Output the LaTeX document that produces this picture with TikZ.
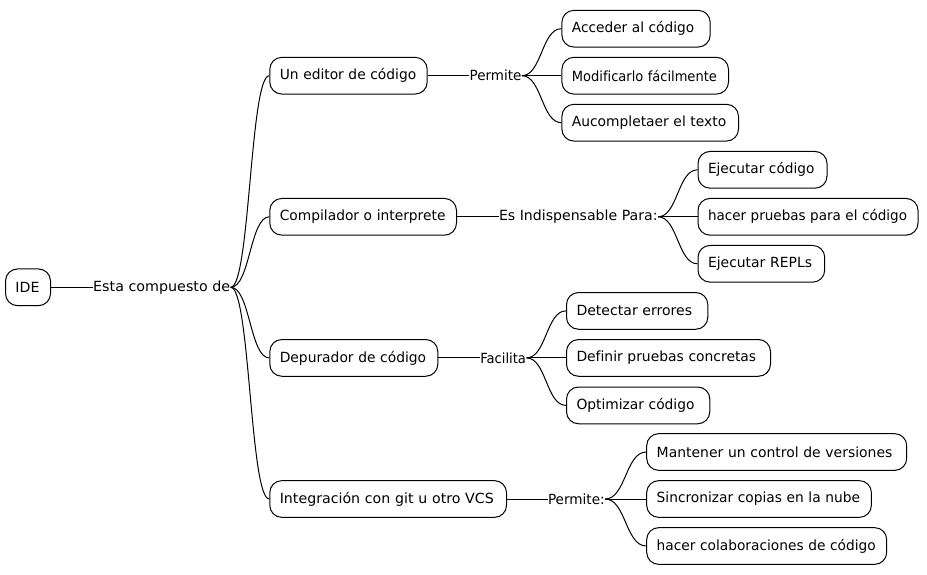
\documentclass[tikz,border=0pt]{standalone}
\usepackage{graphicx}
\usepackage{fontspec}
\newfontfamily\mapfont[Ligatures=NoCommon]{DejaVu Sans}
\usetikzlibrary{positioning,calc}

% squeeze a text to the width it has in the map
\newcommand{\fit}[2]{\resizebox{#1pt}{\height}{#2}}

\tikzset{
    topic/.style={draw, fill=white, rounded corners=12pt, inner xsep=10pt, inner ysep=0pt, minimum height=36.7pt, text width=#1pt, align=left, anchor=west, font=\mapfont\fontsize{14}{17}\selectfont},
    conn/.style={inner sep=0pt, anchor=west, font=\mapfont\fontsize{14}{17}\selectfont},
    brace/.style={to path={.. controls ($(\tikztostart)!0.5!(\tikztotarget |- \tikztostart)$) and ($(\tikztostart |- \tikztotarget)!0.5!(\tikztotarget)$) .. (\tikztotarget)}}
}

\begin{document}
\begin{tikzpicture}[x=1pt,y=-1pt,line width=1pt]
    \useasboundingbox (0,0) rectangle (927,575);

    % root
    \node[topic=25] (ide) at (5,287.3) {\fit{24}{IDE}};
    \node[conn, right=41.7pt of ide] (compuesto) {\fit{137}{Esta compuesto de}};

    % first level
    \node[topic=137.4] (editor) at (269.3,75.7) {\fit{136.4}{Un editor de código}};
    \node[topic=166.7] (compilador) at (269.3,216.8) {\fit{165.7}{Compilador o interprete}};
    \node[topic=148] (depurador) at (269.3,357.9) {\fit{146.4}{Depurador de código}};
    \node[topic=216.7] (integracion) at (269.3,499) {\fit{214}{Integración con git u otro VCS}};

    \node[conn, right=41.5pt of editor] (permiteA) {\fit{51.7}{Permite}};
    \node[conn, right=41.5pt of compilador] (indispensable) {\fit{158.5}{Es Indispensable Para:}};
    \node[conn, right=41.5pt of depurador] (facilita) {\fit{45.7}{Facilita}};
    \node[conn, right=40.5pt of integracion] (permiteB) {\fit{56.7}{Permite:}};

    % leaves
    \node[topic=128.3] (acceder) at ($(permiteA.east)+(39.5,-47)$) {\fit{122.3}{Acceder al código}};
    \node[topic=146.6, right=39.5pt of permiteA] (modificar) {\fit{145}{Modificarlo fácilmente}};
    \node[topic=156.6] (autocompletar) at ($(permiteA.east)+(39.5,47)$) {\fit{154.3}{Aucompletaer el texto}};

    \node[topic=109] (ejecutar) at ($(indispensable.east)+(39.5,-47)$) {\fit{106.4}{Ejecutar código}};
    \node[topic=200, right=39.5pt of indispensable] (pruebas) {\fit{199}{hacer pruebas para el código}};
    \node[topic=106.7] (repl) at ($(indispensable.east)+(39.5,47)$) {\fit{104}{Ejecutar REPLs}};

    \node[topic=121.3] (errores) at ($(facilita.east)+(39.5,-47)$) {\fit{115.7}{Detectar errores}};
    \node[topic=184, right=39.5pt of facilita] (concretas) {\fit{179.7}{Definir pruebas concretas}};
    \node[topic=123.3] (optimizar) at ($(facilita.east)+(39.5,47.5)$) {\fit{118}{Optimizar código}};

    \node[topic=240] (versiones) at ($(permiteB.east)+(41,-47)$) {\fit{235.7}{Mantener un control de versiones}};
    \node[topic=204.7, right=41pt of permiteB] (sincronizar) {\fit{203.3}{Sincronizar copias en la nube}};
    \node[topic=220] (colaborar) at ($(permiteB.east)+(41,47)$) {\fit{219}{hacer colaboraciones de código}};

    % connectors
    \draw (ide.east) -- (compuesto.west);
    \foreach \c in {editor,compilador,depurador,integracion}
        \draw (compuesto.east) to[brace] (\c.west);

    \draw (editor.east) -- (permiteA.west);
    \draw (compilador.east) -- (indispensable.west);
    \draw (depurador.east) -- (facilita.west);
    \draw (integracion.east) -- (permiteB.west);

    \foreach \c in {acceder,modificar,autocompletar}
        \draw (permiteA.east) to[brace] (\c.west);
    \foreach \c in {ejecutar,pruebas,repl}
        \draw (indispensable.east) to[brace] (\c.west);
    \foreach \c in {errores,concretas,optimizar}
        \draw (facilita.east) to[brace] (\c.west);
    \foreach \c in {versiones,sincronizar,colaborar}
        \draw (permiteB.east) to[brace] (\c.west);
\end{tikzpicture}
\end{document}
